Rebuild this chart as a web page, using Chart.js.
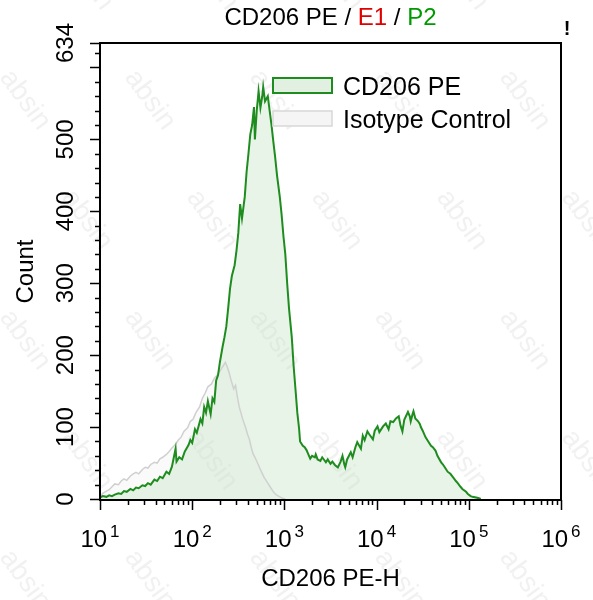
<!DOCTYPE html>
<html>
<head>
<meta charset="utf-8">
<script src="https://cdn.jsdelivr.net/npm/chart.js@4.4.1/dist/chart.umd.min.js"></script>
<style>
  html, body { margin: 0; padding: 0; background: #fff; }
  #histo { display: block; }
</style>
</head>
<body>
<canvas id="histo" width="593" height="600"></canvas>
<script>
// x values are log10 of CD206 PE-H intensity, y values are counts
const greenX = [1.00, 1.03, 1.07, 1.10, 1.13, 1.16, 1.20, 1.23, 1.26, 1.29, 1.33, 1.36, 1.39, 1.42, 1.46, 1.49,
  1.52, 1.55, 1.59, 1.62, 1.65, 1.68, 1.72, 1.75, 1.78, 1.82, 1.83, 1.86, 1.89, 1.92, 1.96, 1.98,
  2.00, 2.03, 2.05, 2.09, 2.11, 2.13, 2.15, 2.17, 2.20, 2.22, 2.24, 2.26, 2.28, 2.30, 2.33, 2.35,
  2.37, 2.39, 2.41, 2.43, 2.46, 2.48, 2.50, 2.52, 2.54, 2.57, 2.59, 2.61, 2.63, 2.65, 2.67, 2.68,
  2.70, 2.72, 2.74, 2.76, 2.77, 2.79, 2.82, 2.84, 2.86, 2.88, 2.90, 2.92, 2.95, 2.97, 2.99, 3.01,
  3.03, 3.05, 3.08, 3.10, 3.12, 3.14, 3.16, 3.17, 3.20, 3.22, 3.24, 3.26, 3.28, 3.30, 3.33, 3.34,
  3.36, 3.39, 3.41, 3.45, 3.47, 3.50, 3.52, 3.55, 3.58, 3.61, 3.63, 3.65, 3.66, 3.68, 3.72, 3.74,
  3.77, 3.79, 3.83, 3.85, 3.87, 3.90, 3.92, 3.96, 3.98, 4.01, 4.03, 4.07, 4.10, 4.13, 4.15, 4.18,
  4.21, 4.24, 4.26, 4.28, 4.30, 4.34, 4.36, 4.37, 4.39, 4.40, 4.42, 4.45, 4.47, 4.48, 4.50, 4.53,
  4.55, 4.59, 4.61, 4.64, 4.66, 4.70, 4.72, 4.75, 4.77, 4.80, 4.83, 4.86, 4.88, 4.91, 4.93, 4.97,
  4.99, 5.02, 5.04, 5.08, 5.11, 5.13];
const greenY = [2, 4, 3, 5, 4, 6, 8, 7, 11, 10, 14, 12, 16, 15, 19, 18,
  22, 20, 27, 25, 31, 29, 38, 35, 45, 70, 52, 58, 55, 66, 75, 82,
  78, 97, 92, 111, 105, 128, 120, 136, 118, 140, 135, 165, 172, 190, 212, 225,
  240, 265, 292, 310, 325, 345, 370, 410, 390, 420, 455, 480, 507, 520, 545, 500,
  540, 567, 544, 560, 573, 553, 560, 540, 520, 497, 475, 450, 420, 395, 365, 340,
  300, 265, 225, 185, 153, 120, 97, 80, 74, 72, 68, 62, 56, 60, 58, 62,
  55, 53, 58, 51, 55, 49, 52, 47, 44, 52, 60, 48, 44, 55, 65, 58,
  72, 79, 70, 88, 82, 94, 90, 83, 95, 101, 93, 101, 105, 97, 108, 107,
  112, 115, 102, 94, 110, 121, 115, 108, 118, 122, 112, 108, 104, 100, 95, 86,
  82, 74, 72, 67, 60, 51, 48, 42, 38, 35, 30, 25, 22, 17, 14, 10,
  7, 4, 3, 2, 1, 0];

const grayX = [1.00, 1.03, 1.07, 1.10, 1.13, 1.16, 1.20, 1.23, 1.26, 1.29, 1.33, 1.36, 1.39, 1.42, 1.46, 1.49,
  1.52, 1.55, 1.59, 1.62, 1.65, 1.68, 1.72, 1.75, 1.78, 1.82, 1.85, 1.88, 1.91, 1.95, 1.98, 2.01,
  2.04, 2.08, 2.11, 2.14, 2.17, 2.21, 2.24, 2.27, 2.30, 2.34, 2.36, 2.38, 2.40, 2.42, 2.45, 2.47,
  2.49, 2.51, 2.53, 2.55, 2.58, 2.60, 2.62, 2.64, 2.66, 2.68, 2.72, 2.75, 2.78, 2.82, 2.85, 2.88,
  2.91, 2.95, 2.98, 3.01];
const grayY = [3, 8, 11, 13, 17, 21, 20, 25, 28, 26, 32, 35, 37, 35, 41, 44,
  43, 48, 51, 50, 56, 58, 62, 66, 71, 76, 82, 86, 94, 99, 108, 111,
  120, 128, 140, 147, 156, 160, 168, 172, 178, 186, 190, 184, 176, 166, 153, 158,
  142, 128, 119, 110, 99, 90, 83, 72, 63, 58, 47, 38, 30, 22, 16, 10,
  6, 3, 1, 0];

const seriesNames = ["CD206 PE", "Isotype Control"];
const xExponents = [1, 2, 3, 4, 5, 6];
const yLabels = [0, 100, 200, 300, 400, 500, 634];
const yMax = 634;

const FONT = "'Liberation Sans', Arial, sans-serif";

const decor = {
  id: 'decor',
  beforeDraw(chart) {
    const ctx = chart.ctx;
    ctx.save();
    ctx.fillStyle = '#fff';
    ctx.fillRect(0, 0, chart.width, chart.height);
    // faint watermark
    ctx.font = "28px " + FONT;
    ctx.fillStyle = 'rgba(120,120,120,0.10)';
    ctx.textAlign = 'center';
    ctx.textBaseline = 'middle';
    for (let r = -1; r < 6; r++) {
      for (let c = -1; c < 6; c++) {
        const px = 25 + c * 125 + (r % 2) * 62;
        const py = 100 + r * 120;
        ctx.save();
        ctx.translate(px, py);
        ctx.rotate(Math.PI * 0.3);
        ctx.fillText('absin', 0, 0);
        ctx.restore();
      }
    }
    ctx.restore();
  },
  afterDraw(chart) {
    const { ctx, chartArea: a, scales: { x, y } } = chart;
    ctx.save();
    const bottom = a.bottom + 1;

    // frame
    ctx.strokeStyle = '#000';
    ctx.lineWidth = 2;
    ctx.strokeRect(a.left, a.top, a.right - a.left, bottom - a.top);

    // y ticks
    ctx.lineWidth = 1.5;
    ctx.beginPath();
    for (let v = 0; v <= 620; v += 20) {
      const py = Math.round(y.getPixelForValue(v)) + 0.5;
      const len = v % 100 === 0 ? 10 : 5;
      ctx.moveTo(a.left, py);
      ctx.lineTo(a.left - len, py);
    }
    const topPy = Math.round(y.getPixelForValue(yMax)) + 0.5;
    ctx.moveTo(a.left, topPy);
    ctx.lineTo(a.left - 10, topPy);
    // x ticks
    xExponents.forEach((e, i) => {
      const px = Math.round(x.getPixelForValue(e)) + 0.5;
      ctx.moveTo(px, bottom);
      ctx.lineTo(px, bottom + 10);
      if (i < xExponents.length - 1) {
        for (let k = 2; k <= 9; k++) {
          const mx = Math.round(x.getPixelForValue(e + Math.log10(k))) + 0.5;
          ctx.moveTo(mx, bottom);
          ctx.lineTo(mx, bottom + 5);
        }
      }
    });
    ctx.stroke();

    ctx.fillStyle = '#000';
    // y labels, rotated
    ctx.font = "24px " + FONT;
    ctx.textAlign = 'center';
    ctx.textBaseline = 'alphabetic';
    yLabels.forEach(v => {
      ctx.save();
      ctx.translate(73, y.getPixelForValue(v));
      ctx.rotate(-Math.PI / 2);
      ctx.fillText(String(v), 0, 0);
      ctx.restore();
    });
    ctx.save();
    ctx.translate(33, (a.top + bottom) / 2);
    ctx.rotate(-Math.PI / 2);
    ctx.fillText('Count', 0, 0);
    ctx.restore();

    // x labels 10^n
    xExponents.forEach(e => {
      const cx = x.getPixelForValue(e);
      ctx.font = "24px " + FONT;
      const wBase = ctx.measureText('10').width;
      ctx.font = "17px " + FONT;
      const wExp = ctx.measureText(String(e)).width;
      const left = cx - (wBase + 3 + wExp) / 2;
      ctx.textAlign = 'left';
      ctx.font = "24px " + FONT;
      ctx.fillText('10', left, 547);
      ctx.font = "17px " + FONT;
      ctx.fillText(String(e), left + wBase + 3, 537);
    });
    ctx.font = "24px " + FONT;
    ctx.textAlign = 'center';
    ctx.fillText('CD206 PE-H', (a.left + a.right) / 2, 586);

    // title with coloured parts
    const parts = [['CD206 PE ', '#000'], ['/ ', '#000'], ['E1', '#e00000'], [' / ', '#000'], ['P2', '#009a00']];
    ctx.font = "24px " + FONT;
    ctx.textAlign = 'left';
    const total = parts.reduce((s, p) => s + ctx.measureText(p[0]).width, 0);
    let tx = (a.left + a.right) / 2 - total / 2;
    parts.forEach(p => {
      ctx.fillStyle = p[1];
      ctx.fillText(p[0], tx, 25);
      tx += ctx.measureText(p[0]).width;
    });

    // legend
    const boxes = [
      { y: 78, stroke: 'rgb(30,140,30)', fill: 'rgb(226,240,226)', lw: 2 },
      { y: 111, stroke: 'rgb(215,215,215)', fill: 'rgb(245,245,245)', lw: 1.5 }
    ];
    ctx.font = "25px " + FONT;
    boxes.forEach((b, i) => {
      ctx.fillStyle = b.fill;
      ctx.fillRect(273, b.y, 59, 15);
      ctx.strokeStyle = b.stroke;
      ctx.lineWidth = b.lw;
      ctx.strokeRect(273, b.y, 59, 15);
      ctx.fillStyle = '#000';
      ctx.fillText(seriesNames[i], 343, b.y + 17);
    });

    // marker at top right
    ctx.font = "bold 20px " + FONT;
    ctx.textAlign = 'center';
    ctx.fillText('!', 567, 35);
    ctx.restore();
  }
};

new Chart(document.getElementById("histo").getContext("2d"), {
  type: "line",
  data: {
    datasets: [
      {
        label: seriesNames[0],
        data: greenX.map((v, i) => ({ x: v, y: greenY[i] })),
        borderColor: "rgb(30, 140, 30)",
        backgroundColor: "rgba(195, 228, 195, 0.4)",
        borderWidth: 2,
        pointRadius: 0,
        tension: 0,
        fill: 'origin',
      },
      {
        label: seriesNames[1],
        data: grayX.map((v, i) => ({ x: v, y: grayY[i] })),
        borderColor: "rgb(208, 208, 208)",
        backgroundColor: "rgba(230, 230, 230, 0.2)",
        borderWidth: 1.5,
        pointRadius: 0,
        tension: 0,
        fill: 'origin',
      },
    ],
  },
  options: {
    responsive: false,
    animation: false,
    layout: { padding: { left: 100, right: 32, top: 43, bottom: 101 } },
    plugins: {
      legend: { display: false },
      title: { display: false },
      tooltip: { enabled: false },
      filler: { drawTime: 'beforeDatasetsDraw' },
    },
    scales: {
      x: { type: 'linear', min: 1, max: 6, display: false },
      y: { type: 'linear', min: 0, max: yMax, display: false },
    },
  },
  plugins: [decor],
});
</script>
</body>
</html>
